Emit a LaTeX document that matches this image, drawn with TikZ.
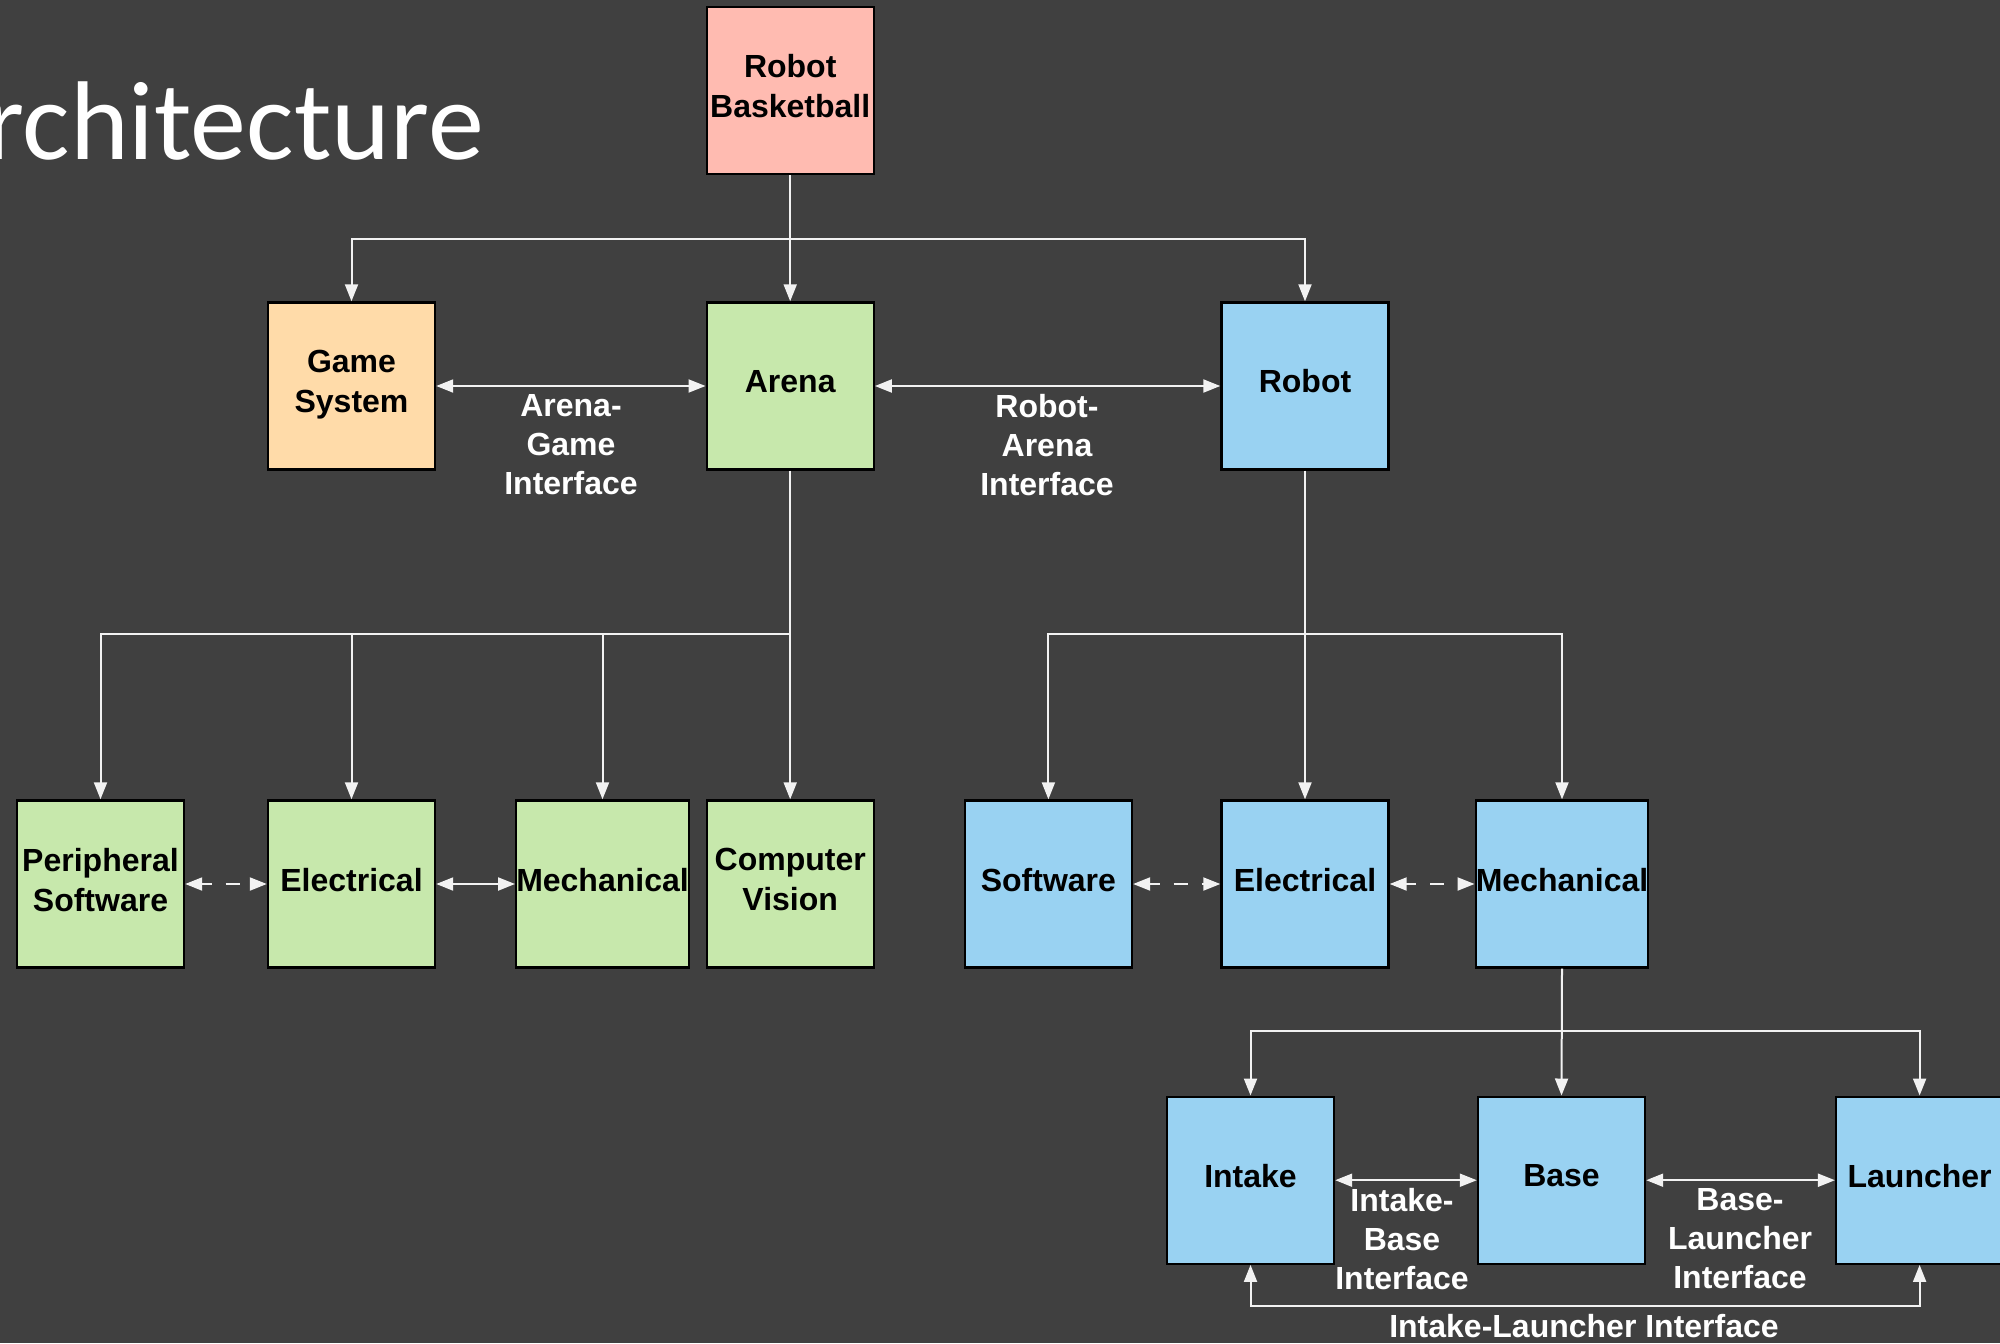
\documentclass[tikz,border=0pt]{standalone}
\usepackage{fontspec}
\setmainfont{Liberation Sans}
\newfontfamily\titlefont{Carlito}
\usetikzlibrary{arrows.meta}

\definecolor{slate}{RGB}{64,64,64}
\definecolor{linecol}{RGB}{242,242,242}
\definecolor{pinkfill}{HTML}{FFBBB1}
\definecolor{orangefill}{HTML}{FFDBA9}
\definecolor{greenfill}{HTML}{C7E8AC}
\definecolor{bluefill}{HTML}{99D2F2}

\tikzset{
  box/.style={draw=black, line width=1.2pt, rectangle, minimum width=83.5pt,
    minimum height=83.5pt, inner sep=0pt, align=center, text depth=4.6pt,
    font=\fontsize{16}{20}\selectfont\bfseries, text=black},
  redbox/.style={box, fill=pinkfill},
  orangebox/.style={box, fill=orangefill},
  greenbox/.style={box, fill=greenfill},
  bluebox/.style={box, fill=bluefill},
  tip/.tip={Triangle[length=8.5pt,width=6.5pt]},
  conn/.style={draw=linecol, line width=1pt, -tip},
  biconn/.style={draw=linecol, line width=1pt, tip-tip},
  dashconn/.style={biconn, dash pattern=on 7pt off 7pt, dash phase=2pt},
  lbl/.style={text=white, align=center, inner sep=0pt,
    font=\fontsize{16}{19.5}\selectfont\bfseries},
}

\begin{document}
\begin{tikzpicture}[x=0.5pt, y=-0.5pt]
  \useasboundingbox (0,0) rectangle (2000,1343);
  \fill[slate] (0,0) rectangle (2000,1343);
  \clip (0,0) rectangle (2000,1343);

  % slide title, running off the left edge
  \node[text=white, inner sep=0pt, anchor=base east, font=\titlefont\fontsize{56}{60}\selectfont]
    (title) at (484,159) {Architecture};

  % top tier
  \node[redbox] (rb) at (790.2,90.3) {Robot\\Basketball};
  \node[orangebox] (game) at (351.5,386) {Game\\System};
  \node[greenbox] (arena) at (790.2,386) {Arena};
  \node[bluebox] (robot) at (1305,386) {Robot};

  % arena subsystems
  \node[greenbox] (ps) at (100.5,884) {Peripheral\\Software};
  \node[greenbox] (gel) at (351.5,884) {Electrical};
  \node[greenbox] (gmech) at (602.5,884) {Mechanical};
  \node[greenbox] (cv) at (790.2,884) {Computer\\Vision};

  % robot subsystems
  \node[bluebox] (sw) at (1048.4,884) {Software};
  \node[bluebox] (bel) at (1305,884) {Electrical};
  \node[bluebox] (bmech) at (1562,884) {Mechanical};

  % mechanical subsystems
  \node[bluebox] (intake) at (1250.5,1180.2) {Intake};
  \node[bluebox] (base) at (1561.5,1180.2) {Base};
  \node[bluebox] (launcher) at (1919.6,1180.2) {Launcher};

  % branch points
  \coordinate (bus1) at (790.2,239);
  \coordinate (bus2) at (790.2,634);
  \coordinate (bus3) at (1305,634);
  \coordinate (bus4) at (1562,1031);
  \coordinate (loop) at (1584,1306);

  % hierarchy
  \draw[conn] (rb.south) -- (arena.north);
  \draw[conn] (bus1) -| (game.north);
  \draw[conn] (bus1) -| (robot.north);

  \draw[conn] (arena.south) -- (cv.north);
  \draw[conn] (bus2) -| (ps.north);
  \draw[conn] (bus2) -| (gel.north);
  \draw[conn] (bus2) -| (gmech.north);

  \draw[conn] (robot.south) -- (bel.north);
  \draw[conn] (bus3) -| (sw.north);
  \draw[conn] (bus3) -| (bmech.north);

  \draw[conn] (bmech.south) -- (base.north);
  \draw[conn] (bus4) -| (intake.north);
  \draw[conn] (bus4) -| (launcher.north);

  % interfaces
  \draw[biconn] (game.east) -- (arena.west);
  \draw[biconn] (arena.east) -- (robot.west);
  \draw[dashconn] (ps.east) -- (gel.west);
  \draw[biconn] (gel.east) -- (gmech.west);
  \draw[dashconn] (sw.east) -- (bel.west);
  \draw[dashconn] (bel.east) -- (bmech.west);
  \draw[biconn] (intake.east) -- (base.west);
  \draw[biconn] (base.east) -- (launcher.west);
  \draw[biconn] (intake.south) |- (loop) -| (launcher.south);

  % interface labels
  \node[lbl, anchor=north] (agi) at (571,394) {Arena-\\Game\\Interface};
  \node[lbl, anchor=north] (rai) at (1047,394) {Robot-\\Arena\\Interface};
  \node[lbl, anchor=north] (ibi) at (1402,1188) {Intake-\\Base\\Interface};
  \node[lbl, anchor=north] (bli) at (1740,1188) {Base-\\Launcher\\Interface};
  \node[lbl] (ili) at (1584,1326) {Intake-Launcher Interface};
\end{tikzpicture}
\end{document}
